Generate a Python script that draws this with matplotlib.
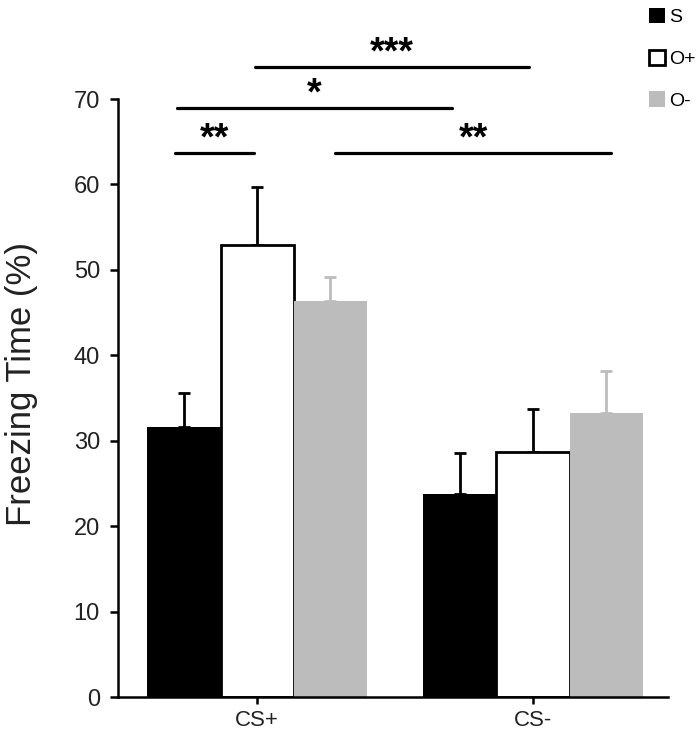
import matplotlib
matplotlib.use('Agg')
import matplotlib.pyplot as plt
import numpy as np

plt.rcParams['font.family'] = ['Liberation Sans', 'DejaVu Sans']

cats = ['CS+', 'CS-']
groups = ['S', 'O+', 'O-']
means = {'S': [31.6, 23.8], 'O+': [52.9, 28.7], 'O-': [46.4, 33.3]}
errs = {'S': [4.0, 4.8], 'O+': [6.8, 5.0], 'O-': [2.8, 4.9]}
colors = {'S': 'black', 'O+': 'white', 'O-': '#bcbcbc'}
# significance brackets: (x_start, x_end, y, label)
sig = [(-0.297, -0.011, 63.7, '**'),
       (-0.290, 0.707, 68.9, '*'),
       (-0.007, 0.986, 73.7, '***'),
       (0.283, 1.283, 63.7, '**')]

fig = plt.figure(figsize=(7, 7.31), dpi=100)
ax = fig.add_axes([118/700, 1-697/731, (668-118)/700, (697-99)/731])

x = np.arange(len(cats))
w = 0.265
offs = [-w, 0, w]
for g, o in zip(groups, offs):
    ec = 'black' if g == 'O+' else colors[g]
    lw = 2.0 if g == 'O+' else 0
    ax.bar(x + o, means[g], w, color=colors[g], edgecolor=ec, linewidth=lw,
           label=g, zorder=2)
    ecol = '#bcbcbc' if g == 'O-' else 'black'
    ax.errorbar(x + o, means[g], yerr=[np.zeros(2), errs[g]], fmt='none',
                ecolor=ecol, elinewidth=2, capsize=4, capthick=2, zorder=1)

for x0, x1, y, lab in sig:
    ax.plot([x0, x1], [y, y], color='black', lw=2.3, clip_on=False,
            solid_capstyle='round')
    ax.text((x0 + x1) / 2, y + 0.4, lab, ha='center', va='baseline',
            fontsize=27, fontweight='bold', clip_on=False)

ax.set_xlim(-0.504, 1.489)
ax.set_ylim(0, 70)
ax.set_yticks(range(0, 71, 10))
ax.set_xticks(x)
ax.set_xticklabels(cats, fontsize=16, color='#222222')
ax.tick_params(axis='y', labelsize=17, labelcolor='#222222', length=6,
               width=1.8, pad=7, direction='out')
ax.tick_params(axis='x', length=5, width=1.8, pad=4, direction='out')
for s in ['top', 'right']:
    ax.spines[s].set_visible(False)
for s in ['left', 'bottom']:
    ax.spines[s].set_linewidth(1.8)
ax.set_ylabel('Freezing Time (%)', fontsize=25, color='#222222')
ax.yaxis.set_label_coords(-0.145, 0.524)

leg = fig.legend(loc='upper left', bbox_to_anchor=(641/700, 1.0), frameon=False,
                 fontsize=14, handlelength=0.85, handleheight=0.85,
                 handletextpad=0.2, labelspacing=1.2, borderaxespad=0)

fig.savefig('out.png', dpi=100)
